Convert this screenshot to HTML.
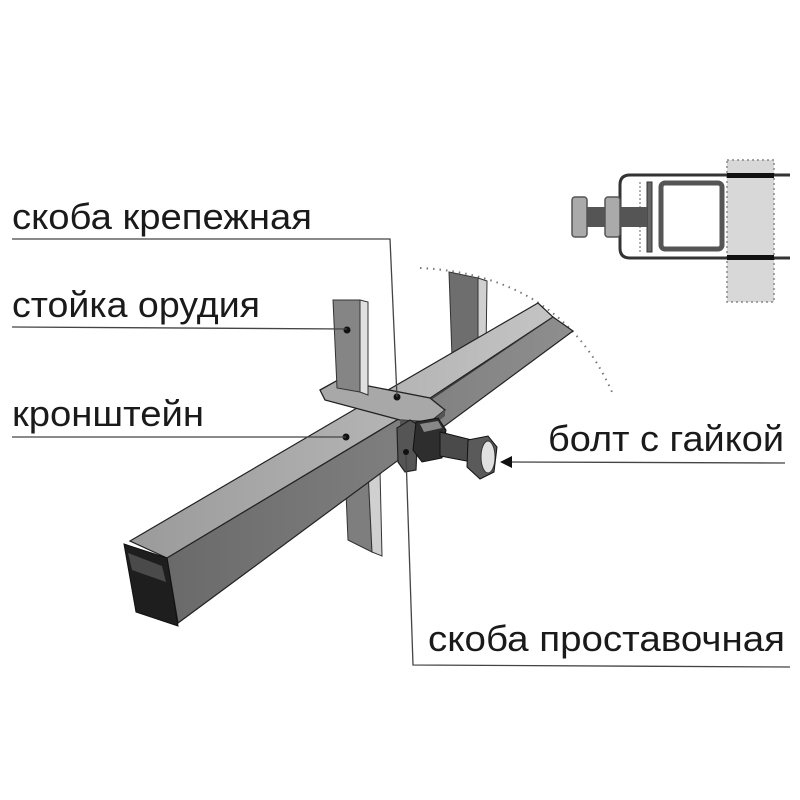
<!DOCTYPE html>
<html><head><meta charset="utf-8"><style>
html,body{margin:0;padding:0;background:#fff;}
svg{display:block;}
text{font-family:"Liberation Sans",sans-serif;fill:#1a1a1a;}
</style></head><body>
<svg width="800" height="800" viewBox="0 0 800 800" xmlns="http://www.w3.org/2000/svg">
<defs>
<linearGradient id="top" x1="0" y1="0" x2="1" y2="0"><stop offset="0" stop-color="#9a9a9a"/><stop offset="1" stop-color="#c4c4c4"/></linearGradient>
<linearGradient id="side" x1="0" y1="0" x2="1" y2="0"><stop offset="0" stop-color="#6a6a6a"/><stop offset="1" stop-color="#8e8e8e"/></linearGradient>
</defs>
<!-- dotted arc -->
<path d="M420,268 Q560,275 612,392" fill="none" stroke="#777" stroke-width="2" stroke-dasharray="1.5,5"/>
<!-- back plate -->
<polygon points="449,272 478,278 478,352 452,357" fill="#6e6e6e" stroke="#333" stroke-width="1"/>
<polygon points="478,278 487,281 486,350 478,352" fill="#d0d0d0" stroke="#333" stroke-width="1"/>
<!-- lower plate -->
<polygon points="345,470 368,470 372,552 348,540" fill="#7e7e7e" stroke="#333" stroke-width="1"/>
<polygon points="368,470 380,470 382,556 372,552" fill="#d0d0d0" stroke="#333" stroke-width="1"/>
<!-- beam top face -->
<polygon points="130,541 357,408 538,303 553,317 397,420 167,558" fill="url(#top)" stroke="#222" stroke-width="1.2"/>
<!-- beam side face -->
<polygon points="167,558 397,420 553,317 573,331 178,623" fill="url(#side)" stroke="#222" stroke-width="1.2"/>
<line x1="430" y1="400" x2="553" y2="317" stroke="#333" stroke-width="1"/>
<!-- end face -->
<polygon points="124,544 167,558 178,626 136,612" fill="#1e1e1e" stroke="#111" stroke-width="1"/>
<polygon points="128,553 162,566 166,582 132,570" fill="#4a4a4a"/>
<!-- clamp plate -->
<polygon points="320,390 338,380 430,398 445,410 430,422 400,420 325,400" fill="#a8a8a8" stroke="#222" stroke-width="1.3"/>
<polygon points="400,420 430,422 445,410 445,416 430,428 400,426" fill="#555"/>
<!-- front plate -->
<polygon points="333,300 360,300 360,392 337,388" fill="#858585" stroke="#333" stroke-width="1"/>
<polygon points="360,300 368,302 368,395 360,392" fill="#e0e0e0" stroke="#333" stroke-width="1"/>
<!-- spacer bracket -->
<polygon points="397,428 410,420 418,425 416,470 405,472 398,462" fill="#555" stroke="#222" stroke-width="1.2"/>
<!-- nut -->
<polygon points="416,422 438,418 446,430 442,458 422,462 413,450" fill="#2e2e2e" stroke="#111"/>
<polygon points="420,424 438,421 442,428 424,432" fill="#888"/>
<!-- shaft -->
<polygon points="440,432 472,440 472,462 440,456" fill="#4a4a4a" stroke="#111"/>
<!-- bolt head -->
<polygon points="468,440 488,436 497,447 494,472 480,479 467,467" fill="#5a5a5a" stroke="#111"/>
<ellipse cx="488" cy="457" rx="7" ry="16" fill="#e0e0e0" stroke="#333"/>
<!-- leader dots -->
<circle cx="347" cy="330" r="3.5" fill="#111"/>
<circle cx="346" cy="437" r="3.5" fill="#111"/>
<circle cx="397" cy="397" r="3.5" fill="#111"/>
<circle cx="406" cy="452" r="3" fill="#111"/>
<!-- leader lines -->
<g fill="none" stroke="#444" stroke-width="1.3">
<polyline points="12,239 390,239 397,397"/>
<polyline points="12,327 347,329"/>
<polyline points="12,437 346,437"/>
<polyline points="785,463 508,462"/>
<polyline points="406,455 413,665 790,667"/>
</g>
<polygon points="500,462 512,456 512,468" fill="#111"/>
<!-- labels -->
<text x="12" y="229" font-size="36" textLength="300" lengthAdjust="spacingAndGlyphs">скоба крепежная</text>
<text x="12" y="317" font-size="36" textLength="248" lengthAdjust="spacingAndGlyphs">стойка орудия</text>
<text x="12" y="426" font-size="36" textLength="192" lengthAdjust="spacingAndGlyphs">кронштейн</text>
<text x="548" y="451" font-size="36" textLength="236" lengthAdjust="spacingAndGlyphs">болт с гайкой</text>
<text x="428" y="651" font-size="36" textLength="357" lengthAdjust="spacingAndGlyphs">скоба проставочная</text>
<!-- inset -->
<rect x="727" y="160" width="47" height="142" fill="#d8d8d8" stroke="#888" stroke-width="1.5" stroke-dasharray="2,3"/>
<path d="M790,175 L630,175 Q620,175 620,185 L620,248 Q620,258 630,258 L790,258" fill="none" stroke="#333" stroke-width="3"/>
<rect x="727" y="173" width="47" height="5" fill="#111"/>
<rect x="727" y="255" width="47" height="5" fill="#111"/>
<line x1="640" y1="182" x2="640" y2="252" stroke="#999" stroke-width="1.5" stroke-dasharray="2,2"/>
<rect x="647" y="182" width="5" height="70" fill="#666" stroke="#333"/>
<rect x="661" y="183" width="61" height="66" rx="4" fill="#fff" stroke="#555" stroke-width="5"/>
<rect x="587" y="207" width="60" height="20" fill="#555"/>
<rect x="572" y="197" width="15" height="40" rx="3" fill="#aaa" stroke="#555" stroke-width="1.5"/>
<rect x="605" y="197" width="15" height="40" rx="3" fill="#aaa" stroke="#555" stroke-width="1.5"/>
</svg>
</body></html>
